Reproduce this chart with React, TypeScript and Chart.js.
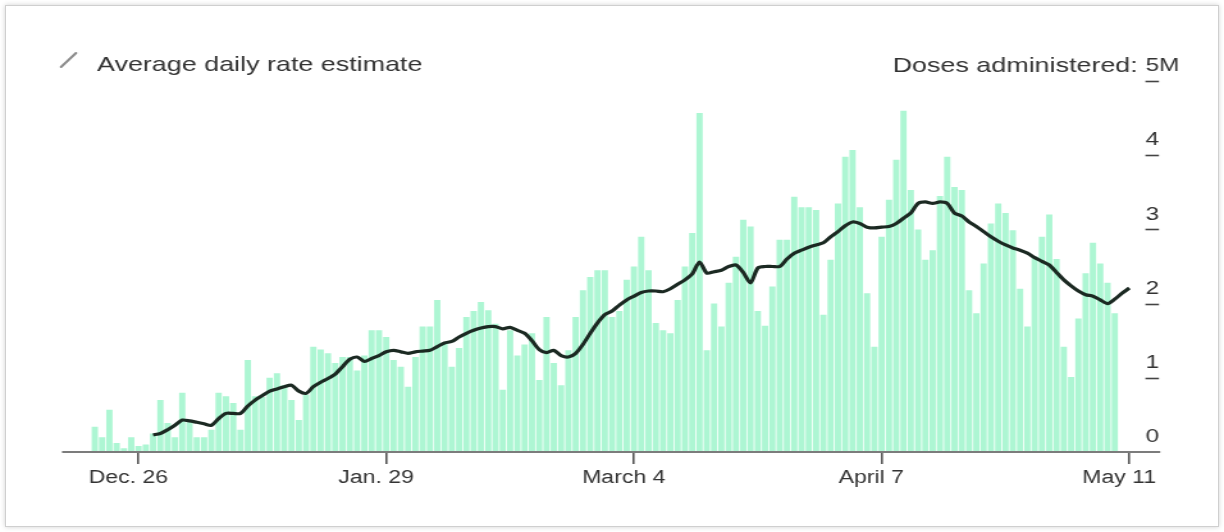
import React, { useEffect, useRef } from 'react';
import { Chart, registerables } from 'chart.js';

Chart.register(...registerables);

// ---- data ----
const START_DATE = '2020-12-16';
const DAY_COUNT = 148; // Dec 16, 2020 .. May 12, 2021

const X_TICK_LABELS: Record<string, string> = {
  '2020-12-26': 'Dec. 26',
  '2021-01-29': 'Jan. 29',
  '2021-03-04': 'March 4',
  '2021-04-07': 'April 7',
  '2021-05-11': 'May 11',
};

// daily doses administered (millions)
const DAILY_DOSES: (number | null)[] = [
  null, null, null, null, 0.34, 0.2, 0.57, 0.12, 0.05, 0.2,
  0.08, 0.1, 0.25, 0.7, 0.39, 0.2, 0.8, 0.4, 0.2, 0.2,
  0.3, 0.8, 0.75, 0.66, 0.3, 1.24, 0.75, 0.74, 1.0, 1.06,
  0.9, 0.7, 0.43, 0.77, 1.42, 1.38, 1.33, 1.2, 1.28, 1.28,
  1.1, 1.3, 1.64, 1.64, 1.55, 1.24, 1.15, 0.88, 1.28, 1.69,
  1.69, 2.05, 1.47, 1.15, 1.4, 1.82, 1.9, 2.02, 1.91, 1.73,
  0.84, 1.64, 1.3, 1.45, 1.6, 0.97, 1.82, 1.2, 0.9, 1.37,
  1.82, 2.18, 2.36, 2.45, 2.45, 1.82, 1.9, 2.32, 2.5, 2.9,
  2.45, 1.74, 1.64, 1.6, 2.05, 2.5, 2.95, 4.57, 1.37, 2.0,
  1.69, 2.28, 2.63, 3.13, 3.04, 1.9, 1.7, 2.23, 2.86, 2.86,
  3.44, 3.3, 3.3, 3.26, 1.85, 2.59, 3.35, 3.98, 4.07, 3.3,
  2.14, 1.42, 2.9, 3.4, 3.94, 4.6, 3.53, 3.0, 2.59, 2.72,
  3.45, 3.98, 3.57, 3.53, 2.18, 1.87, 2.54, 3.08, 3.35, 3.22,
  2.99, 2.2, 1.69, 2.63, 2.9, 3.2, 2.6, 1.42, 1.01, 1.8,
  2.41, 2.82, 2.54, 2.28, 1.87, null, null, null,
];

// average daily rate estimate (millions)
const AVERAGE_RATE: (number | null)[] = [
  null, null, null, null, null, null, null, null, null, null,
  null, null, 0.23, 0.25, 0.3, 0.36, 0.43, 0.42, 0.4, 0.38,
  0.36, 0.45, 0.52, 0.52, 0.52, 0.62, 0.7, 0.76, 0.82, 0.85,
  0.88, 0.9, 0.82, 0.79, 0.88, 0.94, 0.99, 1.05, 1.15, 1.25,
  1.28, 1.22, 1.26, 1.3, 1.35, 1.37, 1.35, 1.33, 1.35, 1.36,
  1.37, 1.42, 1.47, 1.49, 1.55, 1.6, 1.64, 1.67, 1.69, 1.69,
  1.66, 1.68, 1.64, 1.6, 1.5, 1.38, 1.34, 1.37, 1.3, 1.28,
  1.33, 1.45, 1.6, 1.74, 1.85, 1.9, 1.98, 2.05, 2.1, 2.15,
  2.17, 2.17, 2.16, 2.2, 2.26, 2.32, 2.4, 2.56, 2.41, 2.43,
  2.45, 2.5, 2.52, 2.42, 2.28, 2.48, 2.5, 2.5, 2.5, 2.6,
  2.68, 2.72, 2.76, 2.79, 2.82, 2.9, 2.97, 3.05, 3.1, 3.08,
  3.03, 3.02, 3.03, 3.04, 3.08, 3.15, 3.22, 3.35, 3.37, 3.35,
  3.37, 3.35, 3.22, 3.18, 3.1, 3.04, 2.97, 2.9, 2.84, 2.79,
  2.75, 2.72, 2.68, 2.62, 2.57, 2.52, 2.42, 2.32, 2.24, 2.17,
  2.12, 2.1, 2.05, 2.0, 2.06, 2.14, 2.21, null,
];

const Y_TICK_VALUES = [0, 1, 2, 3, 4, 5];
const Y_TICK_LABELS = ['0', '1', '2', '3', '4', '5M'];
const LEGEND_LABEL = 'Average daily rate estimate';
const Y_TITLE = 'Doses administered:';

// ---- layout / style ----
const OUT_W = 1224;
const OUT_H = 532;
const STRETCH = 1.28;
const W = Math.round(OUT_W / STRETCH);
const H = OUT_H;
const FONT = '"Liberation Sans", Arial, Helvetica, sans-serif';
const TEXT_COLOR = '#333333';
const BAR_COLOR = '#adf6d3';
const LINE_COLOR = '#1b2922';
const AXIS_COLOR = '#7c7c7c';
const PLOT_LEFT = 62 / STRETCH;
const PLOT_RIGHT = 1140 / STRETCH;
const PLOT_TOP = 81;
const PLOT_BOTTOM = 452;
const Y_LABEL_PAD = 4;
const Y_LABEL_OFFSET = -15;
const Y_FONT_SIZE = 19;
const X_FONT_SIZE = 18;
const TITLE_FONT_SIZE = 21;

function buildDates(): string[] {
  const out: string[] = [];
  const t0 = Date.parse(START_DATE + 'T00:00:00Z');
  for (let i = 0; i < DAY_COUNT; i++) {
    out.push(new Date(t0 + i * 86400000).toISOString().slice(0, 10));
  }
  return out;
}

const overlayPlugin = {
  id: 'overlay',
  afterDraw(chart: any) {
    const { ctx, chartArea } = chart;
    const y = chart.scales.y;
    ctx.save();
    // legend
    ctx.strokeStyle = '#8c8c8c';
    ctx.lineWidth = 2;
    ctx.lineCap = 'round';
    ctx.beginPath();
    ctx.moveTo(61 / STRETCH, 67);
    ctx.lineTo(76 / STRETCH, 53);
    ctx.stroke();
    ctx.fillStyle = TEXT_COLOR;
    ctx.font = `${TITLE_FONT_SIZE}px ${FONT}`;
    ctx.textAlign = 'left';
    ctx.textBaseline = 'alphabetic';
    ctx.fillText(LEGEND_LABEL, 97 / STRETCH, 71);
    // y title
    ctx.textAlign = 'right';
    ctx.textBaseline = 'middle';
    ctx.fillText(Y_TITLE, chartArea.right - 2, y.getPixelForValue(5) + Y_LABEL_OFFSET);
    // tick underlines
    ctx.font = `${Y_FONT_SIZE}px ${FONT}`;
    const x0 = chartArea.right + Y_LABEL_PAD;
    ctx.strokeStyle = '#444';
    ctx.lineWidth = 1.6;
    ctx.lineCap = 'butt';
    Y_TICK_VALUES.forEach((v, i) => {
      if (v === 0) return;
      const w = ctx.measureText(Y_TICK_LABELS[i].replace('M', '')).width;
      const py = Math.round(y.getPixelForValue(v)) + 0.5;
      ctx.beginPath();
      ctx.moveTo(x0, py);
      ctx.lineTo(x0 + w, py);
      ctx.stroke();
    });
    // baseline
    const zw = ctx.measureText('0').width;
    ctx.strokeStyle = AXIS_COLOR;
    ctx.lineWidth = 2;
    ctx.beginPath();
    ctx.moveTo(chartArea.left, chartArea.bottom);
    ctx.lineTo(x0 + zw + 1, chartArea.bottom);
    ctx.stroke();
    ctx.restore();
  },
};

export default function App() {
  const canvasRef = useRef<HTMLCanvasElement | null>(null);

  useEffect(() => {
    const canvas = canvasRef.current;
    if (!canvas) return;
    const labels = buildDates();
    const chart = new Chart(canvas, {
      type: 'bar',
      data: {
        labels,
        datasets: [
          {
            type: 'line',
            label: LEGEND_LABEL,
            data: AVERAGE_RATE,
            borderColor: LINE_COLOR,
            borderWidth: 3.2,
            pointRadius: 0,
            tension: 0.25,
            spanGaps: false,
            order: 0,
          } as any,
          {
            type: 'bar',
            label: 'Doses administered',
            data: DAILY_DOSES,
            backgroundColor: BAR_COLOR,
            borderWidth: 0,
            barPercentage: 0.86,
            categoryPercentage: 1.0,
            order: 1,
          },
        ],
      },
      options: {
        responsive: false,
        animation: false,
        devicePixelRatio: 1,
        layout: {
          padding: {
            left: PLOT_LEFT,
            top: PLOT_TOP,
            right: 0,
            bottom: H - PLOT_BOTTOM - 40,
          },
        },
        plugins: {
          legend: { display: false },
          tooltip: { enabled: false },
          title: { display: false },
        },
        scales: {
          x: {
            type: 'category',
            offset: true,
            afterFit(scale: any) {
              scale.height = 40;
            },
            border: { display: false },
            grid: {
              display: true,
              offset: false,
              drawOnChartArea: false,
              drawTicks: true,
              tickLength: 12,
              lineWidth: 1.6,
              color: (c: any) =>
                X_TICK_LABELS[labels[c.index]] ? '#555' : 'rgba(0,0,0,0)',
            },
            ticks: {
              autoSkip: false,
              maxRotation: 0,
              minRotation: 0,
              padding: 3,
              labelOffset: -8,
              color: TEXT_COLOR,
              font: { family: FONT, size: X_FONT_SIZE },
              callback: (_v: any, i: number) => X_TICK_LABELS[labels[i]] || '',
            },
          },
          y: {
            position: 'right',
            min: 0,
            max: 5,
            afterFit(scale: any) {
              scale.width = W - PLOT_RIGHT;
            },
            border: { display: false },
            grid: { display: false, drawTicks: false },
            ticks: {
              stepSize: 1,
              padding: Y_LABEL_PAD,
              labelOffset: Y_LABEL_OFFSET,
              color: TEXT_COLOR,
              font: { family: FONT, size: Y_FONT_SIZE },
              callback: (v: any) => {
                const k = Y_TICK_VALUES.indexOf(Number(v));
                return k >= 0 ? Y_TICK_LABELS[k] : '';
              },
            },
          },
        },
      },
      plugins: [overlayPlugin],
    });
    return () => chart.destroy();
  }, []);

  return (
    <div
      style={{
        position: 'fixed',
        left: 0,
        top: 0,
        width: OUT_W,
        height: OUT_H,
        background: '#ffffff',
        overflow: 'hidden',
      }}
    >
      <div
        style={{
          position: 'absolute',
          left: 5,
          top: 5,
          width: OUT_W - 12,
          height: OUT_H - 12,
          border: '1px solid #cfcfcf',
          boxShadow: '0 0 5px rgba(0,0,0,0.18)',
          background: '#ffffff',
        }}
      />
      <canvas
        ref={canvasRef}
        width={W}
        height={H}
        style={{
          position: 'absolute',
          left: 0,
          top: 0,
          width: OUT_W + 'px',
          height: OUT_H + 'px',
        }}
      />
    </div>
  );
}
